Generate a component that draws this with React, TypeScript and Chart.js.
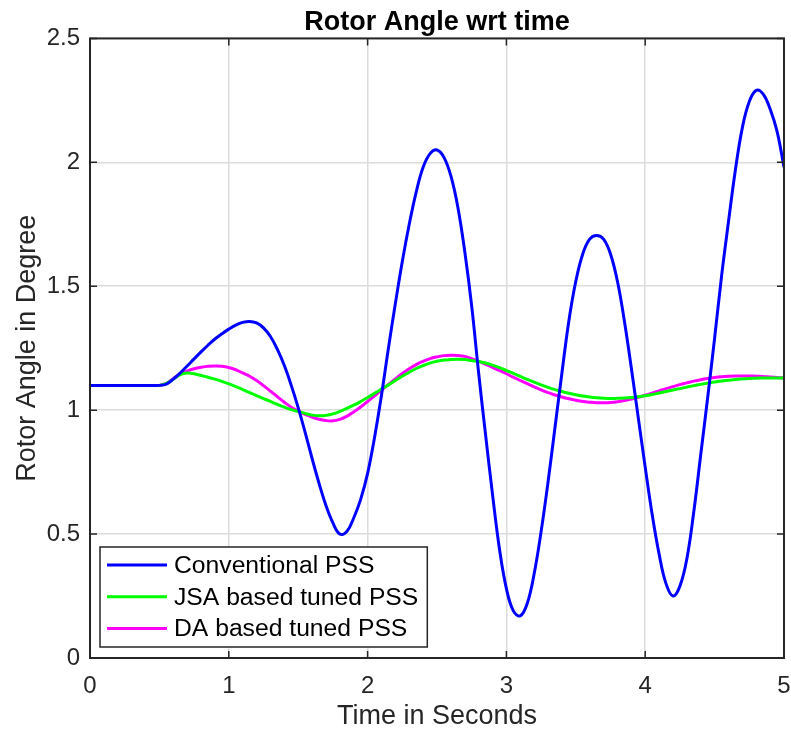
import { useEffect, useRef } from 'react';
import { Chart, registerables } from 'chart.js';

Chart.register(...registerables);

const FONT = "'Liberation Sans', Arial, Helvetica, sans-serif";

const TITLE = 'Rotor Angle wrt time';
const X_TITLE = 'Time in Seconds';
const Y_TITLE = 'Rotor Angle in Degree';

const X_TICKS = [0, 1, 2, 3, 4, 5];
const Y_TICKS = [0, 0.5, 1, 1.5, 2, 2.5];

const TIME = [
  0, 0.05, 0.1, 0.15, 0.2, 0.25, 0.3, 0.35, 0.4, 0.45,
  0.5, 0.55, 0.6, 0.65, 0.7, 0.75, 0.8, 0.85, 0.9, 0.95,
  1, 1.05, 1.1, 1.15, 1.2, 1.25, 1.3, 1.35, 1.4, 1.45,
  1.5, 1.55, 1.6, 1.65, 1.7, 1.75, 1.8, 1.85, 1.9, 1.95,
  2, 2.05, 2.1, 2.15, 2.2, 2.25, 2.3, 2.35, 2.4, 2.45,
  2.5, 2.55, 2.6, 2.65, 2.7, 2.75, 2.8, 2.85, 2.9, 2.95,
  3, 3.05, 3.1, 3.15, 3.2, 3.25, 3.3, 3.35, 3.4, 3.45,
  3.5, 3.55, 3.6, 3.65, 3.7, 3.75, 3.8, 3.85, 3.9, 3.95,
  4, 4.05, 4.1, 4.15, 4.2, 4.25, 4.3, 4.35, 4.4, 4.45,
  4.5, 4.55, 4.6, 4.65, 4.7, 4.75, 4.8, 4.85, 4.9, 4.95,
  5,
];

const CONVENTIONAL = [
  1.1, 1.1, 1.1, 1.1, 1.1, 1.1, 1.1, 1.1, 1.1, 1.1,
  1.1, 1.105, 1.125, 1.15, 1.178, 1.207, 1.235, 1.262, 1.287, 1.308,
  1.327, 1.343, 1.354, 1.358, 1.352, 1.332, 1.297, 1.245, 1.18, 1.1,
  1.01, 0.91, 0.805, 0.705, 0.615, 0.545, 0.5, 0.51, 0.565, 0.64,
  0.745, 0.89, 1.06, 1.25, 1.43, 1.6, 1.75, 1.88, 1.98, 2.035,
  2.05, 2.02, 1.945, 1.82, 1.64, 1.42, 1.15, 0.9, 0.66, 0.44,
  0.28, 0.19, 0.17, 0.22, 0.34, 0.51, 0.71, 0.93, 1.15, 1.36,
  1.52, 1.63, 1.69, 1.705, 1.69, 1.63, 1.52, 1.36, 1.17, 0.97,
  0.77, 0.58, 0.42, 0.3, 0.25, 0.29, 0.4, 0.59, 0.82, 1.05,
  1.29, 1.54, 1.76, 1.97, 2.14, 2.245, 2.29, 2.275, 2.215, 2.125,
  1.98,
];

const JSA_TUNED = [
  1.1, 1.1, 1.1, 1.1, 1.1, 1.1, 1.1, 1.1, 1.1, 1.1,
  1.1, 1.108, 1.125, 1.143, 1.15, 1.147, 1.14, 1.133, 1.125, 1.116,
  1.106, 1.095, 1.083, 1.071, 1.059, 1.047, 1.035, 1.023, 1.012, 1.002,
  0.995, 0.987, 0.98, 0.977, 0.979, 0.985, 0.995, 1.007, 1.02, 1.035,
  1.051, 1.068, 1.085, 1.102, 1.12, 1.137, 1.153, 1.168, 1.18, 1.19,
  1.197, 1.202, 1.204, 1.205, 1.204, 1.2, 1.196, 1.19, 1.182, 1.172,
  1.16, 1.148, 1.136, 1.124, 1.113, 1.102, 1.092, 1.083, 1.075, 1.068,
  1.062, 1.057, 1.053, 1.05, 1.048, 1.047, 1.048, 1.049, 1.051, 1.054,
  1.058, 1.063, 1.069, 1.075, 1.081, 1.087, 1.093, 1.099, 1.104, 1.109,
  1.114, 1.118, 1.121, 1.124, 1.126, 1.128, 1.129, 1.13, 1.13, 1.13,
  1.13,
];

const DA_TUNED = [
  1.1, 1.1, 1.1, 1.1, 1.1, 1.1, 1.1, 1.1, 1.1, 1.1,
  1.1, 1.108, 1.128, 1.146, 1.158, 1.167, 1.173, 1.177, 1.178, 1.177,
  1.172, 1.163, 1.15, 1.137, 1.12, 1.099, 1.077, 1.054, 1.032, 1.012,
  0.997, 0.983, 0.972, 0.963, 0.958, 0.957, 0.963, 0.975, 0.993, 1.013,
  1.035, 1.058, 1.081, 1.104, 1.126, 1.148, 1.167, 1.184, 1.197, 1.208,
  1.215, 1.22, 1.222, 1.221, 1.217, 1.208, 1.197, 1.185, 1.173, 1.16,
  1.147, 1.133, 1.12, 1.107, 1.094, 1.082, 1.071, 1.061, 1.053, 1.046,
  1.04, 1.035, 1.032, 1.03, 1.03, 1.031, 1.034, 1.039, 1.045, 1.052,
  1.06, 1.069, 1.078, 1.087, 1.095, 1.103, 1.11, 1.117, 1.123, 1.128,
  1.132, 1.135, 1.137, 1.138, 1.138, 1.138, 1.137, 1.136, 1.134, 1.132,
  1.13,
];

const SERIES_LABELS = ['Conventional PSS', 'JSA based tuned PSS', 'DA based tuned PSS'];
const SERIES_COLORS = ['#0000ff', '#00ff00', '#ff00ff'];
const SERIES_VALUES = [CONVENTIONAL, JSA_TUNED, DA_TUNED];

const framePlugin = {
  id: 'matlabFrame',
  afterDatasetsDraw(chart: any) {
    const { ctx, chartArea } = chart;
    const { left, right, top, bottom } = chartArea;
    const xs = chart.scales.x;
    const ys = chart.scales.y;
    ctx.save();
    ctx.strokeStyle = '#262626';
    ctx.lineWidth = 1.5;
    const tick = 7;
    ctx.beginPath();
    X_TICKS.forEach((v) => {
      const px = xs.getPixelForValue(v);
      ctx.moveTo(px, bottom);
      ctx.lineTo(px, bottom - tick);
      ctx.moveTo(px, top);
      ctx.lineTo(px, top + tick);
    });
    Y_TICKS.forEach((v) => {
      const py = ys.getPixelForValue(v);
      ctx.moveTo(left, py);
      ctx.lineTo(left + tick, py);
      ctx.moveTo(right, py);
      ctx.lineTo(right - tick, py);
    });
    ctx.stroke();
    ctx.lineWidth = 2;
    ctx.strokeRect(left, top, right - left, bottom - top);

    // legend (inside, south-west)
    ctx.font = `24.7px ${FONT}`;
    let maxW = 0;
    SERIES_LABELS.forEach((l) => {
      maxW = Math.max(maxW, ctx.measureText(l).width);
    });
    const bx = left + 10;
    const bw = 74 + maxW + 9;
    const bh = 100;
    const by = bottom - 11 - bh;
    ctx.fillStyle = '#ffffff';
    ctx.fillRect(bx, by, bw, bh);
    ctx.strokeStyle = '#262626';
    ctx.lineWidth = 1.5;
    ctx.strokeRect(bx, by, bw, bh);
    SERIES_LABELS.forEach((l, i) => {
      const cy = by + 18 + i * 31.7;
      ctx.strokeStyle = SERIES_COLORS[i];
      ctx.lineWidth = 3;
      ctx.beginPath();
      ctx.moveTo(bx + 7, cy);
      ctx.lineTo(bx + 67, cy);
      ctx.stroke();
      ctx.fillStyle = '#000000';
      ctx.textAlign = 'left';
      ctx.textBaseline = 'middle';
      ctx.fillText(l, bx + 74, cy + 1);
    });
    ctx.restore();
  },
};

export default function App() {
  const ref = useRef<HTMLCanvasElement>(null);
  useEffect(() => {
    const canvas = ref.current;
    if (!canvas) return;
    const chart = new Chart(canvas, {
      type: 'line',
      data: {
        datasets: SERIES_VALUES.map((vals, i) => ({
          label: SERIES_LABELS[i],
          data: TIME.map((t, j) => ({ x: t, y: vals[j] })),
          borderColor: SERIES_COLORS[i],
          backgroundColor: SERIES_COLORS[i],
          borderWidth: 3,
          pointRadius: 0,
          tension: 0.4,
          fill: false,
          order: i,
        })),
      },
      options: {
        responsive: false,
        animation: false,
        devicePixelRatio: 1,
        layout: { padding: { left: 0, right: 0, top: 0, bottom: 0 } },
        plugins: {
          legend: { display: false },
          tooltip: { enabled: false },
          title: {
            display: true,
            text: TITLE,
            fullSize: false,
            color: '#000000',
            font: { family: FONT, size: 27, weight: 'bold', lineHeight: 1.2 },
            padding: { top: 6, bottom: 0 },
          },
        },
        scales: {
          x: {
            type: 'linear',
            min: 0,
            max: 5,
            afterBuildTicks: (s: any) => {
              s.ticks = X_TICKS.map((v) => ({ value: v }));
            },
            afterFit: (s: any) => {
              s.height = 75;
              s.paddingLeft = 0;
              s.paddingRight = 7;
            },
            grid: { color: '#dcdcdc', lineWidth: 1.5, drawTicks: false },
            border: { display: false },
            ticks: {
              padding: 14,
              color: '#262626',
              maxRotation: 0,
              autoSkip: false,
              font: { family: FONT, size: 24 },
              callback: (v: any) => String(v),
            },
            title: {
              display: true,
              text: X_TITLE,
              color: '#262626',
              font: { family: FONT, size: 27, lineHeight: 1.2 },
              padding: { top: 0, bottom: 0 },
            },
          },
          y: {
            type: 'linear',
            min: 0,
            max: 2.5,
            afterBuildTicks: (s: any) => {
              s.ticks = Y_TICKS.map((v) => ({ value: v }));
            },
            afterFit: (s: any) => {
              s.width = 90;
            },
            grid: { color: '#dcdcdc', lineWidth: 1.5, drawTicks: false },
            border: { display: false },
            ticks: {
              padding: 10,
              color: '#262626',
              autoSkip: false,
              font: { family: FONT, size: 24 },
              callback: (v: any) => String(v),
            },
            title: {
              display: true,
              text: Y_TITLE,
              color: '#262626',
              font: { family: FONT, size: 27, lineHeight: 1.2 },
              padding: { top: 11, bottom: 0 },
            },
          },
        },
      },
      plugins: [framePlugin],
    } as any);
    return () => chart.destroy();
  }, []);
  return (
    <div style={{ position: 'fixed', left: 0, top: 0, width: 791, height: 733, background: '#ffffff' }}>
      <canvas ref={ref} width={791} height={733} style={{ display: 'block', width: 791, height: 733 }} />
    </div>
  );
}
